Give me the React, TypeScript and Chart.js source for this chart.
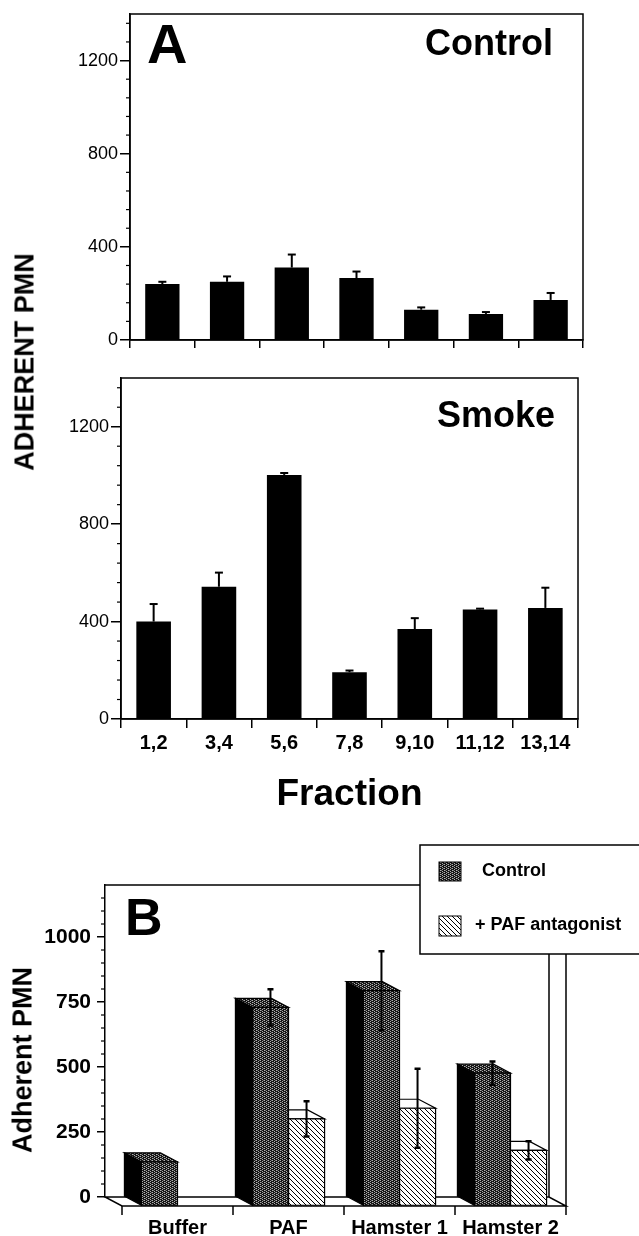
import React, { useEffect, useRef } from 'react';
import { Chart, registerables } from 'chart.js';

Chart.register(...registerables);

const FONT = '"Liberation Sans", Arial, Helvetica, sans-serif';

// ---------- Panel A data ----------
const fractionLabels = ['1,2', '3,4', '5,6', '7,8', '9,10', '11,12', '13,14'];
const controlMeans = [240, 250, 311, 266, 130, 112, 172];
const controlSem = [10, 23, 56, 28, 10, 8, 30];
const smokeMeans = [400, 543, 1002, 192, 369, 450, 456];
const smokeSem = [72, 58, 8, 7, 45, 3, 83];
const panelATicks = [0, 400, 800, 1200];
const panelAMax = 1400;
const panelAMinorStep = 80;

// ---------- Panel B data ----------
const treatmentLabels = ['Buffer', 'PAF', 'Hamster 1', 'Hamster 2'];
const bControlMeans = [170, 764, 828, 511];
const bControlSem = [null, 70, 152, 45];
const bAntagonistMeans = [null, 335, 376, 214];
const bAntagonistSem = [null, 68, 152, 35];
const legendLabels = ['Control', '+ PAF antagonist'];
const panelBTicks = [0, 250, 500, 750, 1000];
const panelBMax = 1200;
const panelBMinorStep = 50;

const DX = 17;
const DY = 9;

function fixScale(width?: number, height?: number) {
  return (scale: any) => {
    if (width !== undefined) scale.width = width;
    if (height !== undefined) scale.height = height;
    scale.paddingTop = 0;
    scale.paddingBottom = 0;
    scale.paddingLeft = 0;
    scale.paddingRight = 0;
  };
}

function setTicks(values: number[]) {
  return (scale: any) => {
    scale.ticks = values.map((v) => ({ value: v }));
  };
}

function makeStipple(ctx: CanvasRenderingContext2D): any {
  const c = document.createElement('canvas');
  c.width = 4;
  c.height = 4;
  const g = c.getContext('2d')!;
  g.fillStyle = '#151515';
  g.fillRect(0, 0, 4, 4);
  g.fillStyle = '#b0b0b0';
  g.fillRect(0, 0, 1, 1);
  g.fillRect(2, 1, 1, 1);
  g.fillRect(0, 2, 1, 1);
  g.fillRect(2, 3, 1, 1);
  g.fillStyle = '#6a6a6a';
  g.fillRect(1, 2, 1, 1);
  g.fillRect(3, 0, 1, 1);
  return ctx.createPattern(c, 'repeat');
}

function makeHatch(ctx: CanvasRenderingContext2D): any {
  const s = 5;
  const c = document.createElement('canvas');
  c.width = s;
  c.height = s;
  const g = c.getContext('2d')!;
  g.fillStyle = '#fff';
  g.fillRect(0, 0, s, s);
  g.strokeStyle = '#000';
  g.lineWidth = 1;
  g.beginPath();
  g.moveTo(-1, -1);
  g.lineTo(s + 1, s + 1);
  g.moveTo(s - 1, -1);
  g.lineTo(s + 1, 1);
  g.moveTo(-1, s - 1);
  g.lineTo(1, s + 1);
  g.stroke();
  return ctx.createPattern(c, 'repeat');
}

type Area = { left: number; top: number; right: number; bottom: number };
type PanelText = { text: string; x: number; y: number; font: string; align: CanvasTextAlign };

function panelAConfig(
  values: number[],
  errors: number[],
  area: Area,
  canvasH: number,
  showLabels: boolean,
  xTickLen: number,
  texts: PanelText[]
): any {
  const plugin = {
    id: 'panelAExtras',
    afterDatasetsDraw(chart: any) {
      const ctx = chart.ctx as CanvasRenderingContext2D;
      const { left, top, right, bottom } = chart.chartArea;
      const ys = chart.scales.y;
      const meta = chart.getDatasetMeta(0);
      ctx.save();
      ctx.strokeStyle = '#000';
      ctx.lineWidth = 2;
      meta.data.forEach((el: any, i: number) => {
        const v = values[i];
        const e = errors[i];
        if (v == null || e == null) return;
        const yTop = ys.getPixelForValue(v + e);
        ctx.beginPath();
        ctx.moveTo(el.x, el.y);
        ctx.lineTo(el.x, yTop);
        ctx.stroke();
        ctx.beginPath();
        ctx.moveTo(el.x - 4, yTop);
        ctx.lineTo(el.x + 4, yTop);
        ctx.stroke();
      });
      ctx.lineWidth = 1.5;
      ctx.strokeRect(left, top, right - left, bottom - top);
      ctx.lineWidth = 1.2;
      for (let v = panelAMinorStep; v < ys.max; v += panelAMinorStep) {
        if (panelATicks.includes(v)) continue;
        const py = ys.getPixelForValue(v);
        ctx.beginPath();
        ctx.moveTo(left - 4, py);
        ctx.lineTo(left, py);
        ctx.stroke();
      }
      ctx.fillStyle = '#000';
      ctx.textBaseline = 'alphabetic';
      texts.forEach((t) => {
        ctx.font = t.font;
        ctx.textAlign = t.align;
        ctx.fillText(t.text, t.x, t.y);
      });
      ctx.restore();
    },
  };
  return {
    type: 'bar',
    data: {
      labels: fractionLabels,
      datasets: [
        {
          data: values,
          backgroundColor: '#000',
          borderWidth: 0,
          barPercentage: 0.53,
          categoryPercentage: 1,
        },
      ],
    },
    options: {
      responsive: false,
      animation: false,
      devicePixelRatio: 1,
      events: [],
      layout: { padding: { left: 0, top: area.top, right: 639 - area.right, bottom: 0 } },
      plugins: { legend: { display: false }, tooltip: { enabled: false } },
      scales: {
        x: {
          grid: {
            drawOnChartArea: false,
            drawTicks: true,
            tickLength: xTickLen,
            color: '#000',
            lineWidth: 1.5,
          },
          border: { display: true, color: '#000', width: 1.5 },
          ticks: {
            display: showLabels,
            color: '#000',
            font: { family: FONT, size: 20, weight: 'bold' },
            padding: 3,
            maxRotation: 0,
            autoSkip: false,
          },
          title: {
            display: showLabels,
            text: 'Fraction',
            color: '#000',
            font: { family: FONT, size: 37, weight: 'bold' },
            padding: { top: 0, bottom: 7 },
          },
          afterFit: fixScale(undefined, canvasH - area.bottom),
        },
        y: {
          min: 0,
          max: panelAMax,
          grid: {
            drawOnChartArea: false,
            drawTicks: true,
            tickLength: 10,
            color: '#000',
            lineWidth: 1.5,
          },
          border: { display: true, color: '#000', width: 1.5 },
          ticks: {
            color: '#000',
            padding: 2,
            font: { family: FONT, size: 18 },
            callback: (v: any) => String(v),
          },
          afterBuildTicks: setTicks(panelATicks),
          afterFit: fixScale(area.left, undefined),
        },
      },
    },
    plugins: [plugin],
  };
}

function panelBConfig(area: Area, canvasH: number): any {
  const draw3D = (
    ctx: CanvasRenderingContext2D,
    el: any,
    front: any,
    topFill: any,
    side: any
  ) => {
    const { x, y, base, width } = el.getProps(['x', 'y', 'base', 'width'], true);
    const x0 = x - width / 2;
    const x1 = x + width / 2;
    ctx.lineWidth = 1.2;
    ctx.strokeStyle = '#000';
    // left side
    ctx.beginPath();
    ctx.moveTo(x0, y);
    ctx.lineTo(x0 + DX, y + DY);
    ctx.lineTo(x0 + DX, base + DY);
    ctx.lineTo(x0, base);
    ctx.closePath();
    ctx.fillStyle = side;
    ctx.fill();
    ctx.stroke();
    // top
    ctx.beginPath();
    ctx.moveTo(x0, y);
    ctx.lineTo(x1, y);
    ctx.lineTo(x1 + DX, y + DY);
    ctx.lineTo(x0 + DX, y + DY);
    ctx.closePath();
    ctx.fillStyle = topFill;
    ctx.fill();
    ctx.stroke();
    // front
    ctx.beginPath();
    ctx.rect(x0 + DX, y + DY, x1 - x0, base - y);
    ctx.fillStyle = front;
    ctx.fill();
    ctx.stroke();
  };

  const plugin = {
    id: 'panelBExtras',
    afterDatasetsDraw(chart: any) {
      const ctx = chart.ctx as CanvasRenderingContext2D;
      const { left, right, top, bottom } = chart.chartArea;
      const ys = chart.scales.y;
      const dots = makeStipple(ctx);
      const lines = makeHatch(ctx);
      ctx.save();
      ctx.strokeStyle = '#000';
      ctx.lineWidth = 1.5;
      // back wall top and right wall
      ctx.beginPath();
      ctx.moveTo(left, top);
      ctx.lineTo(right, top);
      ctx.lineTo(right, bottom);
      ctx.moveTo(right, top);
      ctx.lineTo(right + DX, top + DY);
      ctx.lineTo(right + DX, bottom + DY);
      ctx.stroke();
      // floor
      ctx.beginPath();
      ctx.moveTo(left, bottom);
      ctx.lineTo(right, bottom);
      ctx.lineTo(right + DX, bottom + DY);
      ctx.lineTo(left + DX, bottom + DY);
      ctx.closePath();
      ctx.fillStyle = '#fff';
      ctx.fill();
      ctx.stroke();
      // category ticks on front floor edge
      const n = chart.data.labels.length;
      for (let i = 0; i <= n; i++) {
        const x = left + ((right - left) * i) / n + DX;
        ctx.beginPath();
        ctx.moveTo(x, bottom + DY);
        ctx.lineTo(x, bottom + DY + 9);
        ctx.stroke();
      }
      // minor y ticks
      ctx.lineWidth = 1.2;
      for (let v = panelBMinorStep; v < ys.max; v += panelBMinorStep) {
        if (panelBTicks.includes(v)) continue;
        const py = ys.getPixelForValue(v);
        ctx.beginPath();
        ctx.moveTo(left - 4, py);
        ctx.lineTo(left, py);
        ctx.stroke();
      }
      // bars
      const ctrlMeta = chart.getDatasetMeta(0);
      const antMeta = chart.getDatasetMeta(1);
      for (let i = 0; i < n; i++) {
        if (bAntagonistMeans[i] != null) draw3D(ctx, antMeta.data[i], lines, '#fff', '#fff');
        if (bControlMeans[i] != null) draw3D(ctx, ctrlMeta.data[i], dots, dots, '#000');
      }
      // error bars
      const drawErr = (el: any, v: number | null, e: number | null) => {
        if (v == null || e == null) return;
        const x = el.x + DX;
        const y1 = ys.getPixelForValue(v + e) + DY;
        const y2 = ys.getPixelForValue(v - e) + DY;
        ctx.strokeStyle = '#000';
        ctx.lineWidth = 2;
        ctx.beginPath();
        ctx.moveTo(x, y1);
        ctx.lineTo(x, y2);
        ctx.stroke();
        ctx.lineWidth = 2.5;
        ctx.beginPath();
        ctx.moveTo(x - 3, y1);
        ctx.lineTo(x + 3, y1);
        ctx.moveTo(x - 3, y2);
        ctx.lineTo(x + 3, y2);
        ctx.stroke();
      };
      for (let i = 0; i < n; i++) {
        drawErr(ctrlMeta.data[i], bControlMeans[i], bControlSem[i]);
        drawErr(antMeta.data[i], bAntagonistMeans[i], bAntagonistSem[i]);
      }
      ctx.restore();
    },
    afterDraw(chart: any) {
      const ctx = chart.ctx as CanvasRenderingContext2D;
      const dots = makeStipple(ctx);
      const lines = makeHatch(ctx);
      ctx.save();
      // panel letter
      ctx.fillStyle = '#000';
      ctx.font = `bold 52px ${FONT}`;
      ctx.textAlign = 'left';
      ctx.textBaseline = 'alphabetic';
      ctx.fillText('B', 125, 111);
      // legend
      ctx.fillStyle = '#fff';
      ctx.strokeStyle = '#000';
      ctx.lineWidth = 1.5;
      ctx.fillRect(420, 21, 230, 109);
      ctx.strokeRect(420, 21, 230, 109);
      ctx.lineWidth = 1;
      ctx.fillStyle = dots;
      ctx.fillRect(439, 38, 22, 19);
      ctx.strokeRect(439, 38, 22, 19);
      ctx.fillStyle = lines;
      ctx.fillRect(439, 92, 22, 20);
      ctx.strokeRect(439, 92, 22, 20);
      ctx.fillStyle = '#000';
      ctx.font = `bold 18px ${FONT}`;
      ctx.textBaseline = 'middle';
      ctx.fillText(legendLabels[0], 482, 47);
      ctx.fillText(legendLabels[1], 475, 101);
      ctx.restore();
    },
  };

  return {
    type: 'bar',
    data: {
      labels: treatmentLabels,
      datasets: [
        {
          label: legendLabels[0],
          data: bControlMeans,
          backgroundColor: 'rgba(0,0,0,0)',
          borderWidth: 0,
          barPercentage: 1,
          categoryPercentage: 0.65,
        },
        {
          label: legendLabels[1],
          data: bAntagonistMeans,
          backgroundColor: 'rgba(0,0,0,0)',
          borderWidth: 0,
          barPercentage: 1,
          categoryPercentage: 0.65,
        },
      ],
    },
    options: {
      responsive: false,
      animation: false,
      devicePixelRatio: 1,
      events: [],
      layout: { padding: { left: 0, top: area.top, right: 639 - area.right, bottom: 0 } },
      plugins: { legend: { display: false }, tooltip: { enabled: false } },
      scales: {
        x: {
          grid: { display: false, drawTicks: false },
          border: { display: false },
          ticks: {
            color: '#000',
            font: { family: FONT, size: 20, weight: 'bold' },
            labelOffset: DX,
            padding: 19,
            maxRotation: 0,
            autoSkip: false,
          },
          afterFit: fixScale(undefined, canvasH - area.bottom),
        },
        y: {
          min: 0,
          max: panelBMax,
          grid: {
            drawOnChartArea: false,
            drawTicks: true,
            tickLength: 8,
            color: '#000',
            lineWidth: 1.5,
          },
          border: { display: true, color: '#000', width: 1.5 },
          ticks: {
            color: '#000',
            padding: 6,
            font: { family: FONT, size: 21, weight: 'bold' },
            callback: (v: any) => String(v),
          },
          afterBuildTicks: setTicks(panelBTicks),
          afterFit: fixScale(area.left, undefined),
        },
      },
    },
    plugins: [plugin],
  };
}

export default function App() {
  const a1 = useRef<HTMLCanvasElement>(null);
  const a2 = useRef<HTMLCanvasElement>(null);
  const b = useRef<HTMLCanvasElement>(null);

  useEffect(() => {
    const charts: Chart[] = [];
    charts.push(
      new Chart(
        a1.current!,
        panelAConfig(
          controlMeans,
          controlSem,
          { left: 130, top: 14, right: 583, bottom: 340 },
          372,
          false,
          8,
          [
            { text: 'A', x: 147, y: 63, font: `bold 56px ${FONT}`, align: 'left' },
            { text: 'Control', x: 553, y: 55, font: `bold 36px ${FONT}`, align: 'right' },
          ]
        )
      )
    );
    charts.push(
      new Chart(
        a2.current!,
        panelAConfig(
          smokeMeans,
          smokeSem,
          { left: 121, top: 6, right: 578, bottom: 347 },
          452,
          true,
          9,
          [{ text: 'Smoke', x: 555, y: 55, font: `bold 36px ${FONT}`, align: 'right' }]
        )
      )
    );
    charts.push(
      new Chart(b.current!, panelBConfig({ left: 105, top: 61, right: 549, bottom: 373 }, 412))
    );
    return () => charts.forEach((c) => c.destroy());
  }, []);

  const vLabel = (text: string, cx: number, cy: number, size: number): React.ReactElement => (
    <div
      style={{
        position: 'absolute',
        left: cx,
        top: cy,
        transform: 'translate(-50%, -50%) rotate(-90deg)',
        fontFamily: FONT,
        fontWeight: 'bold',
        fontSize: size,
        lineHeight: 1,
        whiteSpace: 'nowrap',
        color: '#000',
      }}
    >
      {text}
    </div>
  );

  return (
    <div
      style={{
        position: 'absolute',
        left: 0,
        top: 0,
        width: 639,
        height: 1236,
        background: '#fff',
        overflow: 'hidden',
      }}
    >
      <canvas ref={a1} width={639} height={372} style={{ position: 'absolute', left: 0, top: 0 }} />
      <canvas ref={a2} width={639} height={452} style={{ position: 'absolute', left: 0, top: 372 }} />
      <canvas ref={b} width={639} height={412} style={{ position: 'absolute', left: 0, top: 824 }} />
      {vLabel('ADHERENT PMN', 25, 362, 27)}
      {vLabel('Adherent PMN', 23, 1060, 27)}
    </div>
  );
}
